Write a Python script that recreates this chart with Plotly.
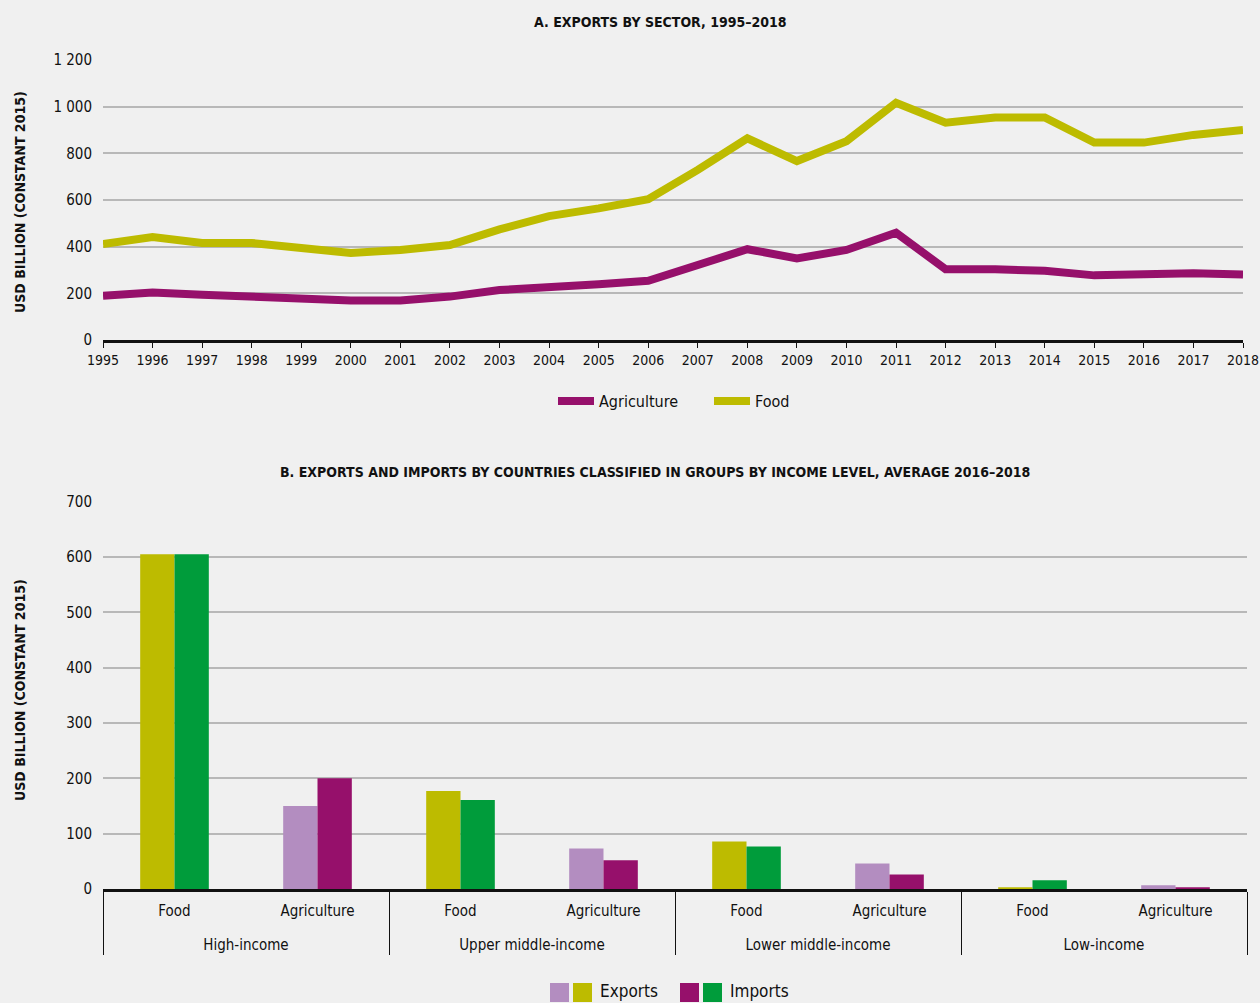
import plotly.graph_objects as go

# ---------------- data ----------------
years = list(range(1995, 2019))
agriculture = [190, 204, 194, 186, 176, 169, 169, 186, 214, 224, 239, 254, 319, 389,
               350, 386, 460, 303, 303, 297, 277, 281, 286, 281]
food = [411, 441, 416, 416, 394, 373, 386, 407, 474, 531, 564, 603, 729, 864,
        767, 852, 1017, 931, 954, 954, 846, 846, 879, 900]
top_ticks = [0, 200, 400, 600, 800, 1000, 1200]
top_tick_text = ["0", "200", "400", "600", "800", "1 000", "1 200"]

income_groups = ["High-income", "Upper middle-income", "Lower middle-income", "Low-income"]
sectors = ["Food", "Agriculture"]
exports = [605, 150, 177, 73, 86, 46, 3, 7]
imports = [605, 200, 161, 52, 77, 26, 16, 3]
bottom_ticks = [0, 100, 200, 300, 400, 500, 600, 700]

# ---------------- styles ----------------
FONT = "DejaVu Sans Condensed, Liberation Sans Narrow, sans-serif"
BG = "#F0F0F0"
OLIVE = "#BDBB00"
GREEN = "#009C3B"
LPURPLE = "#B38DC0"
PURPLE = "#96106B"
GRID = "#B8B8B8"

# group labels get an extra blank line so they sit lower, as in the reference
grp = ["<br>" + g for g in income_groups for _ in sectors]
sub = [s for _ in income_groups for s in sectors]
exp_colors = [OLIVE if s == "Food" else LPURPLE for s in sub]
imp_colors = [GREEN if s == "Food" else PURPLE for s in sub]

fig = go.Figure()

fig.add_trace(go.Scatter(x=years, y=agriculture, mode="lines", name="Agriculture",
                         line=dict(color=PURPLE, width=8), xaxis="x", yaxis="y"))
fig.add_trace(go.Scatter(x=years, y=food, mode="lines", name="Food",
                         line=dict(color=OLIVE, width=8), xaxis="x", yaxis="y"))

fig.add_trace(go.Bar(x=[grp, sub], y=exports, name="Exports", marker=dict(color=exp_colors, line=dict(width=0)),
                     xaxis="x2", yaxis="y2", showlegend=False))
fig.add_trace(go.Bar(x=[grp, sub], y=imports, name="Imports", marker=dict(color=imp_colors, line=dict(width=0)),
                     xaxis="x2", yaxis="y2", showlegend=False))

W, H = 1260, 1003
ml, mr, mt, mb = 103, 13, 60, 114
pw = W - ml - mr
ph = H - mt - mb

def py(pix):
    return (H - mb - pix) / ph

def px(pix):
    return (pix - ml) / pw

fig.update_layout(
    width=W, height=H,
    margin=dict(l=ml, r=mr, t=mt, b=mb, autoexpand=False),
    paper_bgcolor=BG, plot_bgcolor=BG,
    font=dict(family=FONT, size=15, color="#111111"),
    barmode="group", bargap=0.52, bargroupgap=0,
    showlegend=True,
    legend=dict(orientation="h", x=px(553), xanchor="left", y=py(401), yanchor="middle",
                font=dict(size=16, family=FONT), itemwidth=36, bgcolor="rgba(0,0,0,0)",
                entrywidth=105, tracegroupgap=0),
    xaxis=dict(domain=[0, px(1243)], range=[1995, 2018], anchor="y", automargin=False,
               tickmode="array", tickvals=years, ticks="outside", ticklen=5, tickcolor="#111",
               tickwidth=1, showline=True, linecolor="#111", linewidth=3, showgrid=False,
               zeroline=False, tickfont=dict(size=14), tickangle=0),
    yaxis=dict(domain=[py(340), 1.0], range=[0, 1200], anchor="x", automargin=False,
               tickmode="array", tickvals=top_ticks, ticktext=top_tick_text,
               showgrid=True, gridcolor=GRID, gridwidth=1.5, zeroline=False,
               showline=False, ticks="", ticklabelstandoff=10, tickfont=dict(size=15)),
    xaxis2=dict(domain=[0, 1], anchor="y2", type="multicategory", automargin=False,
                showline=True, linecolor="#111", linewidth=3, showdividers=True,
                dividercolor="#111", dividerwidth=1, ticks="", showgrid=False,
                ticklabelstandoff=6, tickfont=dict(size=15)),
    yaxis2=dict(domain=[0, py(501.7)], range=[0, 700], anchor="x2", automargin=False,
                tickmode="array", tickvals=bottom_ticks,
                showgrid=True, gridcolor=GRID, gridwidth=1.5, zeroline=False,
                showline=False, ticks="", ticklabelstandoff=10, tickfont=dict(size=15)),
)

ann = []
ann.append(dict(text="<b>A. EXPORTS BY SECTOR, 1995–2018</b>", xref="paper", yref="paper",
                x=px(660), y=py(22), showarrow=False, font=dict(size=14), xanchor="center", yanchor="middle"))
ann.append(dict(text="<b>B. EXPORTS AND IMPORTS BY COUNTRIES CLASSIFIED IN GROUPS BY INCOME LEVEL, AVERAGE 2016–2018</b>",
                xref="paper", yref="paper", x=px(655), y=py(472), showarrow=False, font=dict(size=14),
                xanchor="center", yanchor="middle"))
ann.append(dict(text="<b>USD BILLION (CONSTANT 2015)</b>", xref="paper", yref="paper", x=px(20), y=py(202),
                textangle=-90, showarrow=False, font=dict(size=14), xanchor="center", yanchor="middle"))
ann.append(dict(text="<b>USD BILLION (CONSTANT 2015)</b>", xref="paper", yref="paper", x=px(20), y=py(690),
                textangle=-90, showarrow=False, font=dict(size=14), xanchor="center", yanchor="middle"))

# bottom legend (double swatches)
shapes = []
for x0, col in [(550, LPURPLE), (573, OLIVE), (680, PURPLE), (703, GREEN)]:
    shapes.append(dict(type="rect", xref="paper", yref="paper", x0=px(x0), x1=px(x0 + 19),
                       y0=py(1002), y1=py(983), fillcolor=col, line=dict(width=0)))
ann.append(dict(text="Exports", xref="paper", yref="paper", x=px(598), y=py(991), showarrow=False,
                font=dict(size=17), xanchor="left", yanchor="middle"))
ann.append(dict(text="Imports", xref="paper", yref="paper", x=px(728), y=py(991), showarrow=False,
                font=dict(size=17), xanchor="left", yanchor="middle"))

fig.update_layout(annotations=ann, shapes=shapes)

fig.write_html("out.html", config={"displayModeBar": False},
               post_script="document.body.style.margin='0';document.body.style.padding='0';")
